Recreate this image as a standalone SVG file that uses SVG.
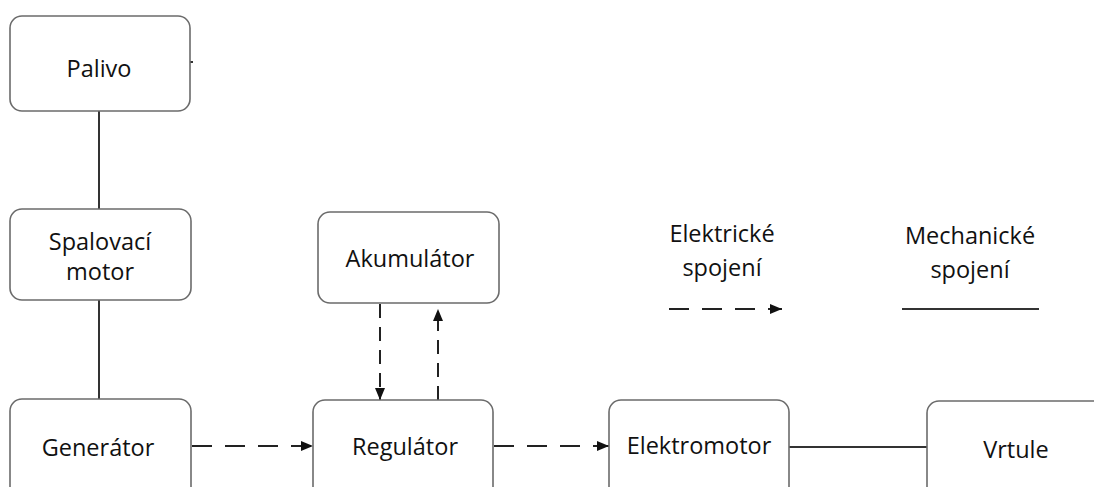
<svg xmlns="http://www.w3.org/2000/svg" width="1094" height="487" viewBox="0 0 1094 487">
<defs>
<style>
.box{fill:#fff;stroke:#6b6b6b;stroke-width:1.6}
.t{font-family:"Open Sans","Noto Sans",sans-serif;font-size:23.5px;fill:#111;text-anchor:middle;dominant-baseline:central}
.mech{stroke:#333;stroke-width:2;fill:none}
.el{stroke:#222;stroke-width:2;fill:none;stroke-dasharray:20 13}
.elv{stroke:#222;stroke-width:2;fill:none;stroke-dasharray:14 9}
</style>
<marker id="ah" viewBox="0 0 12 10" refX="12" refY="5" markerWidth="12" markerHeight="10" markerUnits="userSpaceOnUse" orient="auto">
<path d="M0,0 L12,5 L0,10 Z" fill="#111"/>
</marker>
</defs>
<rect width="1094" height="487" fill="#fff"/>
<g id="connectors">
<line class="mech" x1="99" y1="111" x2="99" y2="209"/>
<line class="mech" x1="99" y1="300" x2="99" y2="399"/>
<line class="mech" x1="789" y1="447" x2="927" y2="447"/>
<line x1="190" y1="62" x2="193" y2="62" stroke="#333" stroke-width="2"/>
<line class="el" x1="192" y1="446" x2="313" y2="446" marker-end="url(#ah)"/>
<line class="el" x1="494" y1="446" x2="609" y2="446" marker-end="url(#ah)"/>
<line class="elv" x1="380" y1="304" x2="380" y2="400" marker-end="url(#ah)"/>
<line class="elv" x1="438" y1="400" x2="438" y2="309" marker-end="url(#ah)"/>
</g>
<g id="palivo"><rect class="box" x="10" y="16" width="180" height="95" rx="12"/><text class="t" x="99" y="68">Palivo</text></g>
<g id="spalovaci"><rect class="box" x="10" y="209" width="181" height="91" rx="12"/><text class="t" x="100" y="241">Spalovací</text><text class="t" x="100" y="271">motor</text></g>
<g id="generator"><rect class="box" x="10" y="399" width="181" height="110" rx="12"/><text class="t" x="98" y="447">Generátor</text></g>
<g id="akumulator"><rect class="box" x="318" y="212" width="181" height="91" rx="12"/><text class="t" x="410" y="258">Akumulátor</text></g>
<g id="regulator"><rect class="box" x="313" y="400" width="180" height="110" rx="12"/><text class="t" x="405" y="446">Regulátor</text></g>
<g id="elektromotor"><rect class="box" x="609" y="400" width="180" height="110" rx="12"/><text class="t" x="699" y="445">Elektromotor</text></g>
<g id="vrtule"><rect class="box" x="927" y="401" width="200" height="110" rx="12"/><text class="t" x="1016" y="449">Vrtule</text></g>
<g id="legend">
<text class="t" x="722" y="233">Elektrické</text>
<text class="t" x="722" y="267">spojení</text>
<line class="el" x1="669" y1="309" x2="782" y2="309" stroke-dasharray="14 10" marker-end="url(#ah)"/>
<text class="t" x="970" y="235">Mechanické</text>
<text class="t" x="970" y="269">spojení</text>
<line class="mech" x1="902" y1="309" x2="1039" y2="309" stroke="#555"/>
</g>
</svg>
